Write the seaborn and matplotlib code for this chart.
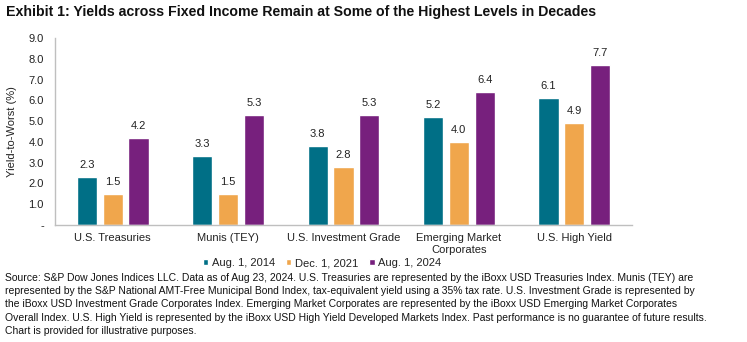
import matplotlib
matplotlib.use("Agg")
import matplotlib.pyplot as plt
import seaborn as sns
import pandas as pd

categories = ["U.S. Treasuries", "Munis (TEY)", "U.S. Investment Grade",
              "Emerging Market\nCorporates", "U.S. High Yield"]
series_names = ["Aug. 1, 2014", "Dec. 1, 2021", "Aug. 1, 2024"]
aug_2014 = [2.3, 3.3, 3.8, 5.2, 6.1]
dec_2021 = [1.5, 1.5, 2.8, 4.0, 4.9]
aug_2024 = [4.2, 5.3, 5.3, 6.4, 7.7]
colors = ["#006F86", "#F0A64C", "#77207D"]
y_ticks = [0, 1, 2, 3, 4, 5, 6, 7, 8, 9]
y_tick_labels = ["-", "1.0", "2.0", "3.0", "4.0", "5.0", "6.0", "7.0", "8.0", "9.0"]

sns.set_theme(style="white")
plt.rcParams["font.family"] = ["Liberation Sans", "DejaVu Sans"]

rows = []
for name, vals in zip(series_names, [aug_2014, dec_2021, aug_2024]):
    for c, v in zip(categories, vals):
        rows.append({"Category": c, "Series": name, "Value": v})
df = pd.DataFrame(rows)

fig = plt.figure(figsize=(7.47, 3.42), dpi=100)
ax = fig.add_axes([0.0736, 0.342, 0.7724, 0.547])
sns.barplot(data=df, x="Category", y="Value", hue="Series", order=categories,
            hue_order=series_names, palette=colors, width=0.67, gap=0.22,
            saturation=1, ax=ax, errorbar=None, legend=True)

for cont in ax.containers:
    ax.bar_label(cont, fmt="%.1f", padding=5, fontsize=8, color="#222222")

ax.set_ylim(0, 9)
ax.set_xlim(-0.5, 4.5)
ax.set_yticks(y_ticks)
ax.set_yticklabels(y_tick_labels, fontsize=8, color="#222222")
ax.tick_params(axis="x", labelsize=8, colors="#222222", length=0, pad=6)
ax.tick_params(axis="y", length=0, pad=8)
ax.set_xlabel("")
ax.set_ylabel("Yield-to-Worst (%)", fontsize=8, color="#222222", labelpad=8)
for s in ["top", "right"]:
    ax.spines[s].set_visible(False)
for s in ["left", "bottom"]:
    ax.spines[s].set_color("#BFBFBF")
    ax.spines[s].set_linewidth(1)

ax.legend(loc="center", bbox_to_anchor=(322 / 747, 1 - 263 / 342),
          bbox_transform=fig.transFigure, ncol=3, frameon=False, fontsize=8,
          handlelength=0.5, handleheight=0.5, handletextpad=0.3, columnspacing=1.0,
          labelcolor="#222222")

fig.text(0.008, 1 - 12 / 342, "Exhibit 1: Yields across Fixed Income Remain at Some of the Highest Levels in Decades",
         fontsize=10.2, fontweight="bold", va="center", ha="left", color="#111111")

source = ("Source: S&P Dow Jones Indices LLC. Data as of Aug 23, 2024. U.S. Treasuries are represented by the iBoxx USD Treasuries Index. Munis (TEY) are\n"
          "represented by the S&P National AMT-Free Municipal Bond Index, tax-equivalent yield using a 35% tax rate. U.S. Investment Grade is represented by\n"
          "the iBoxx USD Investment Grade Corporates Index. Emerging Market Corporates are represented by the iBoxx USD Emerging Market Corporates\n"
          "Overall Index. U.S. High Yield is represented by the iBoxx USD High Yield Developed Markets Index. Past performance is no guarantee of future results.\n"
          "Chart is provided for illustrative purposes.")
fig.text(0.007, 1 - 273 / 342, source, fontsize=7.5, va="top", ha="left",
         color="#111111", linespacing=1.4)

fig.savefig("out.png", dpi=100)
